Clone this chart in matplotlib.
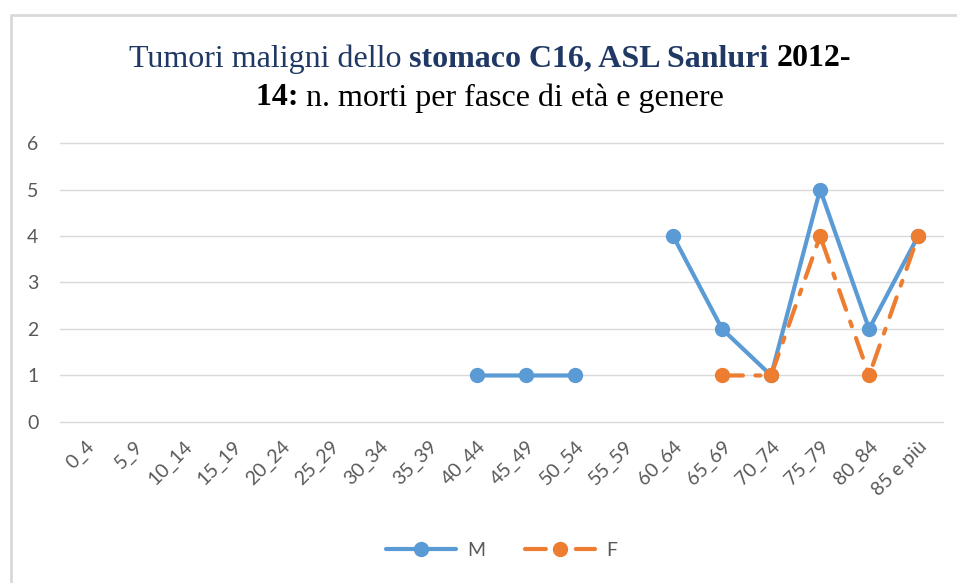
import numpy as np
import matplotlib.pyplot as plt
from matplotlib.lines import Line2D

# fasce di età
categorie = ['0_4', '5_9', '10_14', '15_19', '20_24', '25_29', '30_34', '35_39',
             '40_44', '45_49', '50_54', '55_59', '60_64', '65_69', '70_74',
             '75_79', '80_84', '85 e più']
nan = np.nan
morti_m = [nan, nan, nan, nan, nan, nan, nan, nan, 1, 1, 1, nan, 4, 2, 1, 5, 2, 4]
morti_f = [nan, nan, nan, nan, nan, nan, nan, nan, nan, nan, nan, nan, nan, 1, 1, 4, 1, 4]

blu = '#5B9BD5'
arancio = '#ED7D31'
grigio = '#595959'
navy = '#1F3864'

fig = plt.figure(figsize=(9.57, 5.83), dpi=100)
ax = fig.add_axes([0.0632, 0.2762, 0.9218, 0.4785])

x = np.arange(len(categorie))
ax.plot(x, morti_m, color=blu, lw=3, marker='o', ms=10, label='M',
        solid_capstyle='round')
ax.plot(x, morti_f, color=arancio, lw=3, marker='o', ms=10, label='F',
        dashes=(5, 3, 1.2, 3), dash_capstyle='round')

ax.set_xlim(-0.5, len(categorie) - 0.5)
ax.set_ylim(0, 6)
ax.set_yticks(range(7))
ax.set_xticks(x)
ax.set_xticklabels(categorie, rotation=45, ha='right', va='top',
                   rotation_mode='anchor')
ax.tick_params(axis='both', length=0, labelsize=14, labelcolor=grigio)
ax.tick_params(axis='y', pad=16)
ax.tick_params(axis='x', pad=11)
for t in ax.get_xticklabels() + ax.get_yticklabels():
    t.set_fontfamily('Lato')
ax.grid(axis='y', color='#D9D9D9', lw=1)
for gl in ax.get_ygridlines():
    gl.set_clip_on(False)
ax.set_axisbelow(True)
for s in ax.spines.values():
    s.set_visible(False)

leg = ax.legend(loc='center', bbox_to_anchor=(0.5, -0.459), ncol=2,
                frameon=False, prop={'family': 'Lato', 'size': 14},
                handlelength=3.6, columnspacing=2.0, handletextpad=0.6)
for t in leg.get_texts():
    t.set_color(grigio)

# titolo a pezzi (normale / grassetto, blu / nero)
righe = [
    [('Tumori maligni dello ', 'normal', navy),
     ('stomaco C16, ASL Sanluri ', 'bold', navy),
     ('2012-', 'bold', 'black')],
    [('14: ', 'bold', 'black'),
     ('n. morti per fasce di età e genere', 'normal', 'black')],
]
fig.canvas.draw()
r = fig.canvas.get_renderer()
for yy, riga in zip([0.899, 0.832], righe):
    pezzi = []
    for testo, peso, col in riga:
        t = fig.text(0, yy, testo, fontsize=23, family='Liberation Serif',
                     weight=peso, color=col, va='center', ha='left')
        pezzi.append(t)
    larg = [p.get_window_extent(r).width for p in pezzi]
    x0 = 490 - sum(larg) / 2
    for p, w in zip(pezzi, larg):
        p.set_x(x0 / 957)
        x0 += w

# cornice grigia sopra e a sinistra
fig.add_artist(Line2D([10.5 / 957, 10.5 / 957, 1], [0, 1 - 14.5 / 583, 1 - 14.5 / 583],
                      transform=fig.transFigure, color='#D9D9D9', lw=2))

fig.savefig('out.png', dpi=100)
